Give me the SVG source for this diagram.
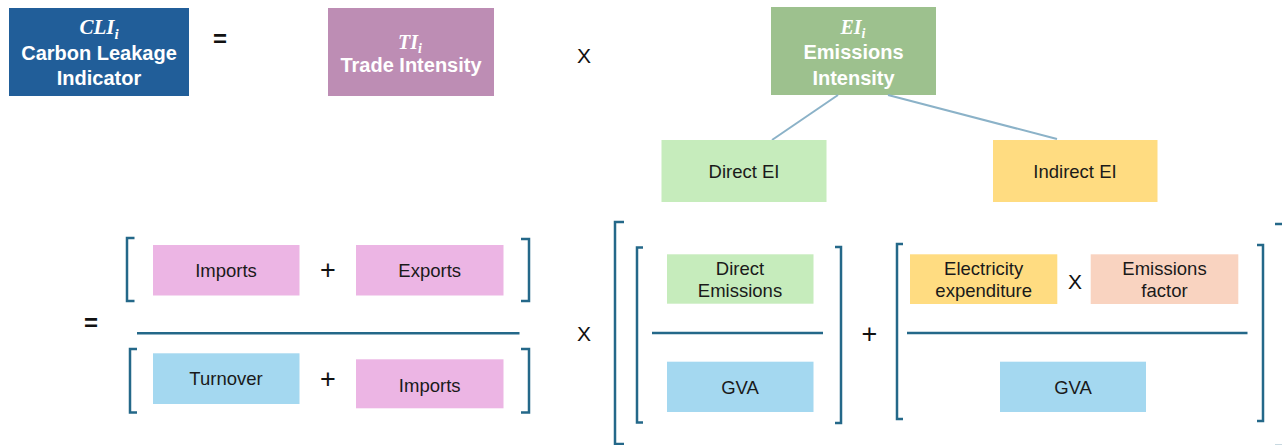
<svg xmlns="http://www.w3.org/2000/svg" width="1282" height="445" viewBox="0 0 1282 445">
<style>
.lbl{font-family:"Liberation Sans",Arial,sans-serif;font-size:18.5px;fill:#1a1a1a;text-anchor:middle}
.wh{font-family:"Liberation Sans",Arial,sans-serif;font-size:20px;font-weight:bold;fill:#ffffff;text-anchor:middle}
.mth{font-family:"Liberation Serif","Times New Roman",serif;font-style:italic;font-weight:bold;fill:#ffffff;text-anchor:middle}
.op{font-family:"Liberation Sans",Arial,sans-serif;fill:#111111;text-anchor:middle}
.x{font-size:21px}
.pl{font-size:27px}
.br{fill:none;stroke:#246889;stroke-width:2.5}
.conn{stroke:#8BB2C8;stroke-width:2;fill:none}
</style>
<rect width="1282" height="445" fill="#ffffff"/>

<g id="cli">
<rect x="9" y="8" width="180" height="88" fill="#215E99"/>
<text class="mth" x="99" y="33.5" font-size="21">CLI<tspan font-size="15" dy="5">i</tspan></text>
<text class="wh" x="99" y="60">Carbon Leakage</text>
<text class="wh" x="99" y="85">Indicator</text>
</g>
<text class="op" x="220" y="47" font-size="24" font-weight="bold">=</text>

<g id="ti">
<rect x="328" y="8" width="166" height="88" fill="#BD8DB4"/>
<text class="mth" x="410" y="49" font-size="20">TI<tspan font-size="14" dy="4">i</tspan></text>
<text class="wh" x="411" y="72">Trade Intensity</text>
</g>
<text class="op x" x="584" y="62.5">X</text>

<g id="ei">
<rect x="771" y="7" width="165" height="88" fill="#9DC18E"/>
<text class="mth" x="853" y="33.5" font-size="20">EI<tspan font-size="14" dy="4">i</tspan></text>
<text class="wh" x="853.5" y="59">Emissions</text>
<text class="wh" x="853.5" y="85">Intensity</text>
</g>

<g id="connectors">
<line class="conn" x1="838" y1="95" x2="772" y2="140"/>
<line class="conn" x1="888" y1="95" x2="1057" y2="139"/>
</g>

<g id="direct-ei">
<rect x="661.5" y="140" width="165" height="62" fill="#C6ECBC"/>
<text class="lbl" x="744" y="178">Direct EI</text>
</g>
<g id="indirect-ei">
<rect x="993" y="140" width="164.5" height="62" fill="#FFDC81"/>
<text class="lbl" x="1075" y="178">Indirect EI</text>
</g>

<g id="trade-fraction">
<text class="op" x="91" y="331" font-size="24" font-weight="bold">=</text>
<path class="br" d="M134.5 238 H127 V301 H134.5"/>
<path class="br" d="M521 239 H529 V301 H521"/>
<path class="br" d="M137 349 H130 V412.5 H137"/>
<path class="br" d="M521 349 H529 V412.5 H521"/>
<line class="br" x1="137" y1="333.3" x2="519.5" y2="333.3"/>
<g id="imports-top">
<rect x="153" y="245" width="146.5" height="50.5" fill="#ECB5E4"/>
<text class="lbl" x="226" y="276.7">Imports</text>
</g>
<text class="op pl" x="328" y="278.5">+</text>
<g id="exports">
<rect x="356" y="245" width="147.5" height="50.5" fill="#ECB5E4"/>
<text class="lbl" x="429.7" y="276.7">Exports</text>
</g>
<g id="turnover">
<rect x="153" y="353.3" width="146.5" height="50.7" fill="#A4D8F0"/>
<text class="lbl" x="226" y="385">Turnover</text>
</g>
<text class="op pl" x="328" y="387.5">+</text>
<g id="imports-bottom">
<rect x="356" y="359.3" width="147.5" height="49" fill="#ECB5E4"/>
<text class="lbl" x="429.7" y="391.7">Imports</text>
</g>
</g>

<text class="op x" x="584" y="340.5">X</text>

<g id="emissions-bracket">
<path class="br" d="M624 222 H615 V444 H624"/>
<path class="br" d="M1275 224 H1284 V446 H1275"/>
</g>

<g id="direct-fraction">
<path class="br" d="M643 247.5 H637 V422.5 H643"/>
<path class="br" d="M835 247 H841 V423 H835"/>
<line class="br" x1="652" y1="333" x2="823" y2="333"/>
<g id="direct-emissions">
<rect x="667" y="254.3" width="146.5" height="49.4" fill="#C6ECBC"/>
<text class="lbl" x="740" y="274.5">Direct</text>
<text class="lbl" x="740" y="297">Emissions</text>
</g>
<g id="gva1">
<rect x="667" y="361.7" width="146.5" height="50.3" fill="#A4D8F0"/>
<text class="lbl" x="740" y="393.5">GVA</text>
</g>
</g>

<text class="op pl" x="869.5" y="342.5">+</text>

<g id="indirect-fraction">
<path class="br" d="M903 244 H897 V419 H903"/>
<path class="br" d="M1257 245 H1263 V421 H1257"/>
<line class="br" x1="907" y1="333" x2="1247.5" y2="333"/>
<g id="electricity">
<rect x="910" y="254.3" width="147.3" height="49.7" fill="#FFDC81"/>
<text class="lbl" x="983.7" y="274.5">Electricity</text>
<text class="lbl" x="983.7" y="297">expenditure</text>
</g>
<text class="op x" x="1075" y="288.5">X</text>
<g id="emissions-factor">
<rect x="1090.7" y="254.3" width="147.6" height="49.7" fill="#F9D3C0"/>
<text class="lbl" x="1164.5" y="274.5">Emissions</text>
<text class="lbl" x="1164.5" y="297">factor</text>
</g>
<g id="gva2">
<rect x="1000" y="361.7" width="146" height="50.3" fill="#A4D8F0"/>
<text class="lbl" x="1073" y="393.5">GVA</text>
</g>
</g>
</svg>
